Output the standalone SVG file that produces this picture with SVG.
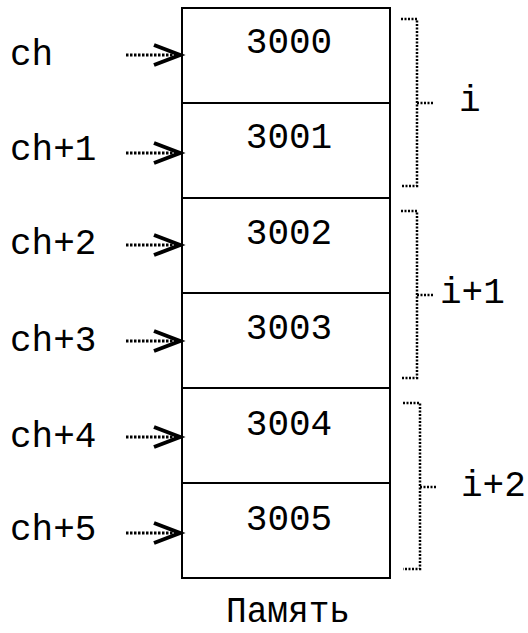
<svg xmlns="http://www.w3.org/2000/svg" width="528" height="633" viewBox="0 0 528 633">
<style>
text{font-family:"Liberation Mono","Courier New",monospace;fill:#000;font-size:36px}
.num{text-anchor:middle}
.cell{fill:#fff;stroke:#000;stroke-width:2}
.dot{fill:none;stroke:#000;stroke-width:3;stroke-dasharray:2.5 1.5}
.brace{fill:none;stroke:#000;stroke-width:2.5;stroke-dasharray:2 1.5}
.head{fill:none;stroke:#000;stroke-width:4}
</style>
<rect width="528" height="633" fill="#fff"/>
<g id="memory">
<rect class="cell" x="182" y="8" width="208" height="95"/>
<rect class="cell" x="182" y="103" width="208" height="95"/>
<rect class="cell" x="182" y="198" width="208" height="95"/>
<rect class="cell" x="182" y="293" width="208" height="95"/>
<rect class="cell" x="182" y="388" width="208" height="95"/>
<rect class="cell" x="182" y="483" width="208" height="95"/>
<text class="num" x="289" y="53">3000</text>
<text class="num" x="289" y="148">3001</text>
<text class="num" x="289" y="244">3002</text>
<text class="num" x="289" y="339">3003</text>
<text class="num" x="289" y="435">3004</text>
<text class="num" x="289" y="530">3005</text>
</g>
<g id="pointers">
<text x="10" y="65">ch</text>
<text x="10" y="160">ch+1</text>
<text x="10" y="254">ch+2</text>
<text x="10" y="351">ch+3</text>
<text x="10" y="447">ch+4</text>
<text x="10" y="540">ch+5</text>
</g>
<g id="connectors">
<g transform="translate(0,55)"><path class="dot" d="M126 0H176"/><path class="head" d="M154 -10L180 0L154 10"/></g>
<g transform="translate(0,153)"><path class="dot" d="M126 0H176"/><path class="head" d="M154 -10L180 0L154 10"/></g>
<g transform="translate(0,245)"><path class="dot" d="M126 0H176"/><path class="head" d="M154 -10L180 0L154 10"/></g>
<g transform="translate(0,341)"><path class="dot" d="M126 0H176"/><path class="head" d="M154 -10L180 0L154 10"/></g>
<g transform="translate(0,437)"><path class="dot" d="M126 0H176"/><path class="head" d="M154 -10L180 0L154 10"/></g>
<g transform="translate(0,533)"><path class="dot" d="M126 0H176"/><path class="head" d="M154 -10L180 0L154 10"/></g>
<path class="brace" d="M401 19H417V186H401M417 103H433"/>
<path class="brace" d="M401 211H417V378H401M417 295H433"/>
<path class="brace" d="M403 403H420V569H403M420 487H437"/>
</g>
<g id="groups">
<text x="459" y="111">i</text>
<text x="440" y="303">i+1</text>
<text x="461" y="496">i+2</text>
</g>
<text id="caption" x="226" y="622" font-size="26" textLength="124" lengthAdjust="spacingAndGlyphs">Память</text>
</svg>
